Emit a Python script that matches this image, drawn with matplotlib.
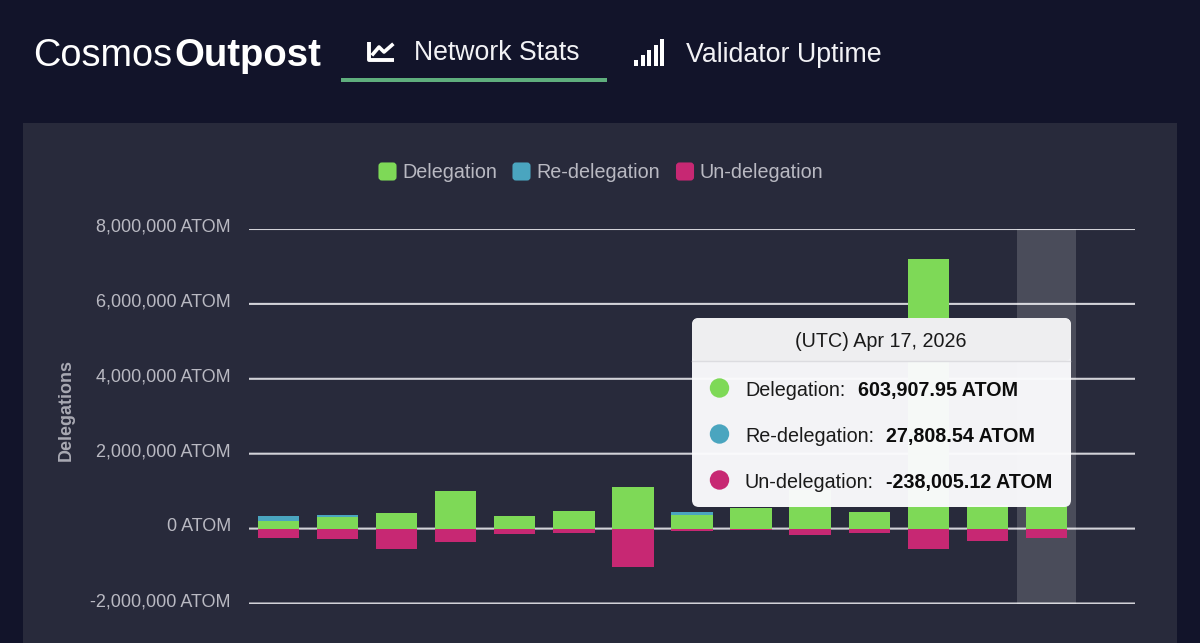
import matplotlib
matplotlib.use("Agg")
import matplotlib.pyplot as plt
from matplotlib.patches import FancyBboxPatch, Rectangle, Circle
from matplotlib.transforms import ScaledTranslation

# values
days = list(range(14))
delegation = [214000, 303000, 410000, 1015000, 347000, 463000, 1121000, 374000, 543000, 1030000, 454000, 7190000, 620000, 603907.95]
redelegation = [125000, 71000, 2000, 2000, 2000, 8000, 2000, 70000, 2000, 2000, 2000, 2000, 2000, 27808.54]
undelegation = [-258000, -285000, -552000, -365000, -151000, -125000, -1015000, -62000, -50000, -178000, -116000, -534000, -338000, -238005.12]
yticks = [-2000000, 0, 2000000, 4000000, 6000000, 8000000]
series_names = ["Delegation", "Re-delegation", "Un-delegation"]
GREEN = "#7ed957"
BLUE = "#4aa5bf"
PINK = "#c72873"
BG = "#12142a"
PANEL = "#282a3b"
GRID = "#d2d2d8"
W, H = 1200, 643
plt.rcParams["font.family"] = ["Liberation Sans", "DejaVu Sans"]

fig = plt.figure(figsize=(W / 100, H / 100), dpi=100, facecolor=BG)

# page furniture, in pixel coords
back = fig.add_axes([0, 0, 1, 1], zorder=0)
back.set_xlim(0, W)
back.set_ylim(H, 0)
back.axis("off")
back.add_patch(Rectangle((23, 123), 1154, 520, color=PANEL, lw=0))

back.text(33, 56.5, "Cosmos", color="white", fontsize=27.3, va="center")
back.text(174, 56.5, "Outpost", color="white", fontsize=27.5, va="center", fontweight="bold")
back.text(414, 53.5, "Network Stats", color="#f2f2f5", fontsize=19.2, va="center")
back.text(686, 55, "Validator Uptime", color="#f2f2f5", fontsize=19.3, va="center")
back.add_patch(Rectangle((341, 78), 266, 3.5, color="#5fae7d", lw=0))
# chart icon
back.plot([369, 369, 394], [42, 60, 60], color="white", lw=2.8, solid_capstyle="butt")
back.plot([373, 379, 384, 392], [54, 47, 52, 45], color="white", lw=2.6)
# signal icon
for i, bar_top in enumerate([60, 55, 50, 45, 39]):
    back.add_patch(Rectangle((634 + i * 6.5, bar_top), 4.4, 66 - bar_top, color="white", lw=0))

# legend
legend_x = [378, 512, 675.5]
legend_colors = [GREEN, BLUE, PINK]
for x, name, c in zip(legend_x, series_names, legend_colors):
    back.add_patch(FancyBboxPatch((x + 1.5, 163.5), 16, 16, boxstyle="round,pad=0,rounding_size=2.5",
                                  fc=c, ec=c, lw=1.5))
    back.text(x + 24, 173, name, color="#b9b9c2", fontsize=14.2, va="center")

back.text(66.5, 410, "Delegations", color="#a9a9b3", fontsize=12.9, fontweight="bold",
          rotation=90, ha="center", va="center")

# chart
ax = fig.add_axes([249 / W, 1 - 603.5 / H, (1135 - 249) / W, (603.5 - 229) / H], zorder=1)
ax.patch.set_alpha(0)
ax.set_xlim(-0.5, 14.5)
ax.set_ylim(-2000000, 8000000)
for s in ax.spines.values():
    s.set_visible(False)
ax.set_xticks([])
ax.set_yticks(yticks)
ax.set_yticklabels([f"{v:,} ATOM" for v in yticks], color="#b9b9c2", fontsize=13)
ax.tick_params(axis="y", length=0, pad=13)
# labels sit a little above their gridlines
lift = ScaledTranslation(0, 3.8 / 100, fig.dpi_scale_trans)
for label in ax.get_yticklabels():
    label.set_transform(label.get_transform() + lift)
ax.set_axisbelow(True)
ax.grid(axis="y", color=GRID, lw=1.5)
for line in ax.get_ygridlines():
    line.set_snap(False)
ax.axvspan(12.5, 13.5, color="white", alpha=0.16, lw=0, zorder=1)

ax.bar(days, delegation, width=0.7, color=GREEN, zorder=3)
ax.bar(days, redelegation, width=0.7, bottom=delegation, color=BLUE, zorder=3)
ax.bar(days, undelegation, width=0.7, color=PINK, zorder=3)

# tooltip
top = fig.add_axes([0, 0, 1, 1], zorder=2)
top.set_xlim(0, W)
top.set_ylim(H, 0)
top.axis("off")
top.patch.set_alpha(0)
top.add_patch(FancyBboxPatch((692, 318), 379, 189, boxstyle="round,pad=0,rounding_size=7",
                             fc="#fbfbfd", ec="none", alpha=0.97))
top.add_patch(FancyBboxPatch((692, 318), 379, 43, boxstyle="round,pad=0,rounding_size=7",
                             fc="#eeeef0", ec="none", alpha=0.98))
top.plot([692, 1070], [361, 361], color="#dcdce0", lw=1)
top.text(881, 341.5, "(UTC) Apr 17, 2026", color="#1a1a1a", fontsize=14.2, ha="center", va="center")
rows_y = [388, 434, 480]
rows_val = ["603,907.95 ATOM", "27,808.54 ATOM", "-238,005.12 ATOM"]
val_x = [858, 886, 886]
for y, name, c, val, vx in zip(rows_y, series_names, legend_colors, rows_val, val_x):
    top.add_patch(Circle((719.5, y), 9.7, color=c, lw=0))
    top.text(745, y + 2.5, name + ":", color="#1a1a1a", fontsize=14.2, va="center")
    top.text(vx, y + 2.5, val, color="#0c0c0c", fontsize=14.2, va="center", fontweight="bold")

fig.savefig("out.png", dpi=100, facecolor=BG)
